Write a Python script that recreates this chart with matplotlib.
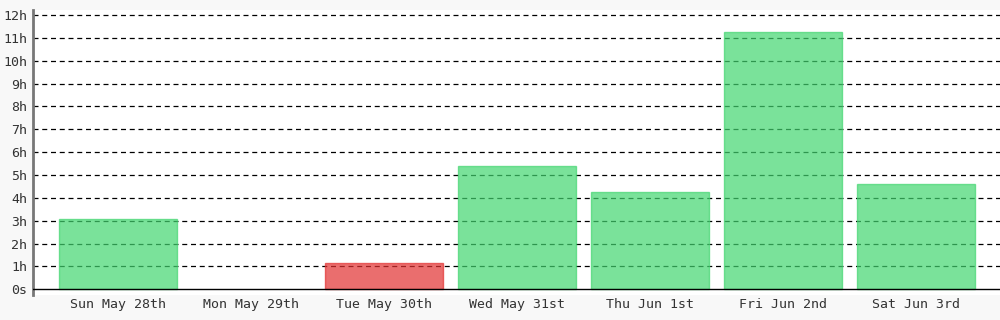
import matplotlib
matplotlib.use("Agg")
import matplotlib.pyplot as plt
import numpy as np

# data (hours per day)
days = ["Sun May 28th", "Mon May 29th", "Tue May 30th", "Wed May 31st",
        "Thu Jun 1st", "Fri Jun 2nd", "Sat Jun 3rd"]
hours = [3.07, 0.0, 1.14, 5.39, 4.25, 11.26, 4.6]
below_goal = [False, False, True, False, False, False, False]
y_ticks = list(range(0, 13))
y_labels = ["0s"] + [f"{h}h" for h in range(1, 13)]

green = (66/255, 214/255, 112/255)
red = (226/255, 48/255, 48/255)
colors = [red if b else green for b in below_goal]

plt.rcParams["font.family"] = "DejaVu Sans Mono"

fig = plt.figure(figsize=(10, 3.2), dpi=100, facecolor="#f8f8f8")
ax = fig.add_axes([0.033, 0.078, 0.967, 0.891])
ax.set_facecolor("white")

x = np.arange(len(days))
for xi, h, c in zip(x, hours, colors):
    if h > 0:
        ax.bar(xi, h, width=0.887, color=c, alpha=0.7, edgecolor=c,
               linewidth=1, zorder=3)

ax.set_xlim(-0.64, 6.63)
ax.set_ylim(-0.25, 12.22)
ax.set_yticks(y_ticks)
ax.set_yticklabels(y_labels)
ax.set_xticks(x)
ax.set_xticklabels(days)
ax.tick_params(axis="both", length=0, labelsize=9.5, colors="#333333")
ax.tick_params(axis="y", pad=4)
ax.tick_params(axis="x", pad=2)

for y in y_ticks[1:]:
    ax.axhline(y, color="black", linestyle=(0, (4, 3)), linewidth=0.9, zorder=2)
ax.axhline(0, color="black", linewidth=1, zorder=4)

for s in ["top", "right", "bottom"]:
    ax.spines[s].set_visible(False)
ax.spines["left"].set_color("#777777")
ax.spines["left"].set_linewidth(2)

fig.savefig("out.png", dpi=100, facecolor=fig.get_facecolor())
